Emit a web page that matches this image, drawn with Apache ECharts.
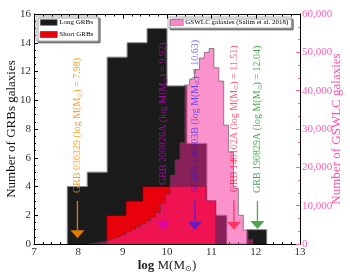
<!DOCTYPE html>
<html><head><meta charset="utf-8">
<script src="https://cdn.jsdelivr.net/npm/echarts@6/dist/echarts.min.js"></script>
<style>html,body{margin:0;padding:0;background:#fff}#c{width:350px;height:280px}</style>
</head><body><div id="c"></div>
<script>
// ---- data ----
const longEdges  = [7.75, 8.2, 8.65, 9.1, 9.55, 10.0, 10.45, 10.9, 11.35, 11.8, 12.25];
const longCounts = [4, 5, 13, 14, 15, 11, 7, 2, 0, 1];
const shortEdges  = [8.64, 9.07, 9.45, 10.88, 11.1];
const shortCounts = [2, 3, 4, 3];
const gswlcEdges = [8.20, 8.31, 8.42, 8.53, 8.64, 8.75, 8.86, 8.97, 9.08, 9.19, 9.30, 9.41, 9.52, 9.63, 9.74, 9.85, 9.96,
  10.07, 10.18, 10.29, 10.40, 10.51, 10.62, 10.73, 10.84, 10.95, 11.06, 11.17, 11.28, 11.39, 11.50, 11.61, 11.72, 11.83, 11.94];
const gswlcCounts = [100, 300, 500, 800, 1200, 1600, 2100, 2600, 3200, 3800, 4500, 5200, 6000, 7000, 8200, 10500, 13000,
  18000, 22000, 26500, 41500, 43000, 45500, 48500, 50000, 51000, 46000, 42500, 31000, 24000, 14500, 7500, 3600, 1200];
const hostNames = ['GRB 030329', 'GRB 200826A', 'SGRB 130603B', 'GRB 140102A', 'GRB 190829A'];
const hostMass  = [7.98, 9.92, 10.63, 11.51, 12.04];
const hostMassLabels = ['7.98', '9.92', '10.63', '11.51', '12.04'];
const hostColors = ['rgba(255,140,0,0.85)', 'rgba(215,0,215,0.7)', 'rgba(30,30,255,0.65)', 'rgba(255,0,40,0.65)', 'rgba(0,128,0,0.7)'];
const textBase = [3.55, 4.1, 3.6, 3.6, 3.55];
const arrowTop = [3.0, 3.0, 3.05, 3.05, 3.0];
const arrowTip = [0.4, 1.0, 1.0, 1.0, 1.05];
const legendLeft = ['Long GRBs', 'Short GRBs'];
const legendRight = ['GSWLC galaxies (Salim et al. 2018)'];
const xRange = [7, 13];
const yRange = [0, 16];

function stepData(edges, counts) {
  const d = [[edges[0], 0]];
  for (let i = 0; i < counts.length; i++) d.push([edges[i], counts[i]]);
  d.push([edges[edges.length - 1], 0]);
  return d;
}

const SERIF = 'Liberation Serif';
const chart = echarts.init(document.getElementById('c'), null, {renderer: 'canvas'});

const tickCommon = {
  axisLine: {show: true, onZero: false, lineStyle: {color: '#000', width: 1}},
  axisTick: {show: true, inside: true, length: 4, lineStyle: {color: '#000'}},
  minorTick: {show: true, length: 2, lineStyle: {color: '#000'}},
  splitLine: {show: false},
  nameMoveOverlap: false
};

chart.setOption({
  animation: false,
  backgroundColor: '#fff',
  grid: {left: 34, right: 50, top: 14, bottom: 36, containLabel: false, outerBoundsMode: 'none'},
  legend: [
    {
      left: 36, top: 16, orient: 'vertical', itemGap: 5, itemWidth: 17, itemHeight: 6,
      padding: [3, 5, 3, 4], backgroundColor: '#fff', borderColor: '#999', borderWidth: 0.8, borderRadius: 1,
      shadowColor: 'rgba(0,0,0,0.45)', shadowOffsetX: 2, shadowOffsetY: 2, shadowBlur: 0,
      textStyle: {fontFamily: SERIF, fontSize: 7, color: '#000', padding: [0, 0, 0, -3]},
      data: [
        {name: legendLeft[0], icon: 'rect', itemStyle: {color: '#1b1b1b', borderColor: '#888', borderWidth: 0.5}},
        {name: legendLeft[1], icon: 'rect', itemStyle: {color: '#e8000b', borderColor: '#600', borderWidth: 0.5}}
      ]
    },
    {
      left: 168, top: 17, itemWidth: 13, itemHeight: 6,
      padding: [2, 3, 2, 2], backgroundColor: '#fff', borderColor: '#999', borderWidth: 0.8, borderRadius: 1,
      shadowColor: 'rgba(0,0,0,0.45)', shadowOffsetX: 2, shadowOffsetY: 2, shadowBlur: 0,
      textStyle: {fontFamily: SERIF, fontSize: 7, color: '#000', padding: [0, 0, 0, -3]},
      data: [
        {name: legendRight[0], icon: 'rect', itemStyle: {color: 'rgba(245,40,155,0.55)', borderColor: 'rgba(120,60,90,0.7)', borderWidth: 0.6}}
      ]
    }
  ],
  xAxis: [
    Object.assign({
      type: 'value', position: 'bottom', min: xRange[0], max: xRange[1], interval: 1,
      axisLabel: {fontFamily: SERIF, fontSize: 11, color: '#333', margin: 3},
      name: '{b|log} M(M{s|⊙})', nameLocation: 'middle', nameGap: 15,
      nameTextStyle: {fontFamily: SERIF, fontSize: 13, color: '#222',
        rich: {b: {fontFamily: SERIF, fontSize: 13, fontWeight: 'bold', color: '#222'},
               s: {fontFamily: SERIF, fontSize: 8, color: '#222', padding: [6, 0, 0, 0]}}}
    }, tickCommon, {minorTick: {show: true, splitNumber: 5, length: 2, lineStyle: {color: '#000'}}})
  ],
  yAxis: [
    Object.assign({
      type: 'value', position: 'left', min: yRange[0], max: yRange[1], interval: 2,
      axisLabel: {fontFamily: SERIF, fontSize: 11, color: '#333', margin: 3},
      name: 'Number of GRBs galaxies', nameLocation: 'middle', nameGap: 16,
      nameTextStyle: {fontFamily: SERIF, fontSize: 13, color: '#111'}
    }, tickCommon, {minorTick: {show: true, splitNumber: 4, length: 2, lineStyle: {color: '#000'}}}),
    Object.assign({
      type: 'value', position: 'right', min: 0, max: 60000, interval: 10000,
      axisLabel: {fontFamily: SERIF, fontSize: 11, color: '#ff5fb0', margin: 2},
      name: 'Number of GSWLC galaxies', nameLocation: 'middle', nameGap: 30,
      nameTextStyle: {fontFamily: SERIF, fontSize: 13, color: '#ff4fa8'}
    }, tickCommon, {
      axisTick: {show: true, inside: true, length: 4, lineStyle: {color: '#ff5fb0'}},
      minorTick: {show: true, splitNumber: 3, length: 2, lineStyle: {color: '#ff5fb0'}}
    })
  ],
  series: [
    {
      name: legendLeft[0], type: 'line', step: 'end', xAxisIndex: 0, yAxisIndex: 0, z: 2,
      data: stepData(longEdges, longCounts), symbol: 'none', silent: true,
      lineStyle: {color: '#8a8a8a', width: 1}, itemStyle: {color: '#1b1b1b'},
      areaStyle: {color: '#1b1b1b', opacity: 1}
    },
    {
      name: legendLeft[1], type: 'line', step: 'end', xAxisIndex: 0, yAxisIndex: 0, z: 3,
      data: stepData(shortEdges, shortCounts), symbol: 'none', silent: true,
      lineStyle: {color: '#5a0000', width: 1}, itemStyle: {color: '#e8000b'},
      areaStyle: {color: '#e8000b', opacity: 1}
    },
    {
      name: legendRight[0], type: 'line', step: 'end', xAxisIndex: 0, yAxisIndex: 1, z: 4,
      data: stepData(gswlcEdges, gswlcCounts), symbol: 'none', silent: true,
      lineStyle: {color: 'rgba(70,60,65,0.55)', width: 1}, itemStyle: {color: 'rgba(245,40,155,0.5)'},
      areaStyle: {color: 'rgb(245,38,152)', opacity: 0.5}
    },
    {
      // top frame line with inward ticks (mirrors the bottom axis)
      type: 'custom', xAxisIndex: 0, yAxisIndex: 0, z: 12, silent: true, clip: false,
      data: [[xRange[0], yRange[1]]],
      renderItem: function (params, api) {
        const a = api.coord([xRange[0], yRange[1]]);
        const b = api.coord([xRange[1], yRange[1]]);
        const y = Math.round(a[1]) + 0.5;
        const kids = [{type: 'line', shape: {x1: a[0], y1: y, x2: b[0], y2: y}, style: {stroke: '#000', lineWidth: 1}}];
        for (let k = 0; k <= (xRange[1] - xRange[0]) * 5; k++) {
          const v = xRange[0] + k / 5;
          const p = api.coord([v, yRange[1]]);
          const len = (k % 5 === 0) ? 4 : 2;
          const x = Math.round(p[0]) + 0.5;
          kids.push({type: 'line', shape: {x1: x, y1: y, x2: x, y2: y + len}, style: {stroke: '#000', lineWidth: 1}});
        }
        return {type: 'group', children: kids};
      }
    },
    {
      type: 'custom', xAxisIndex: 0, yAxisIndex: 0, z: 10, silent: true,
      data: hostMass.map((m, i) => [m, textBase[i]]),
      renderItem: function (params, api) {
        const i = params.dataIndex;
        const m = hostMass[i];
        const col = hostColors[i];
        const top = api.coord([m, arrowTop[i]]);
        const tip = api.coord([m, arrowTip[i]]);
        const tb = api.coord([m, textBase[i]]);
        const hl = 8, hw = 7;
        return {
          type: 'group',
          children: [
            {type: 'line', shape: {x1: top[0], y1: top[1], x2: tip[0], y2: tip[1] - hl},
             style: {stroke: col, lineWidth: 1.3}},
            {type: 'polygon', shape: {points: [[tip[0] - hw, tip[1] - hl], [tip[0] + hw, tip[1] - hl], [tip[0], tip[1]]]},
             style: {fill: col}},
            {type: 'text', x: tb[0], y: tb[1], rotation: Math.PI / 2,
             style: {
               text: hostNames[i] + ' (log M(M{s|⊙}) = ' + hostMassLabels[i] + ')',
               fill: col, fontFamily: SERIF, fontSize: 10, align: 'left', verticalAlign: 'middle',
               rich: {s: {fill: col, fontFamily: SERIF, fontSize: 6, padding: [5, 0, 0, 0]}}
             }}
          ]
        };
      }
    }
  ]
});
</script></body></html>
